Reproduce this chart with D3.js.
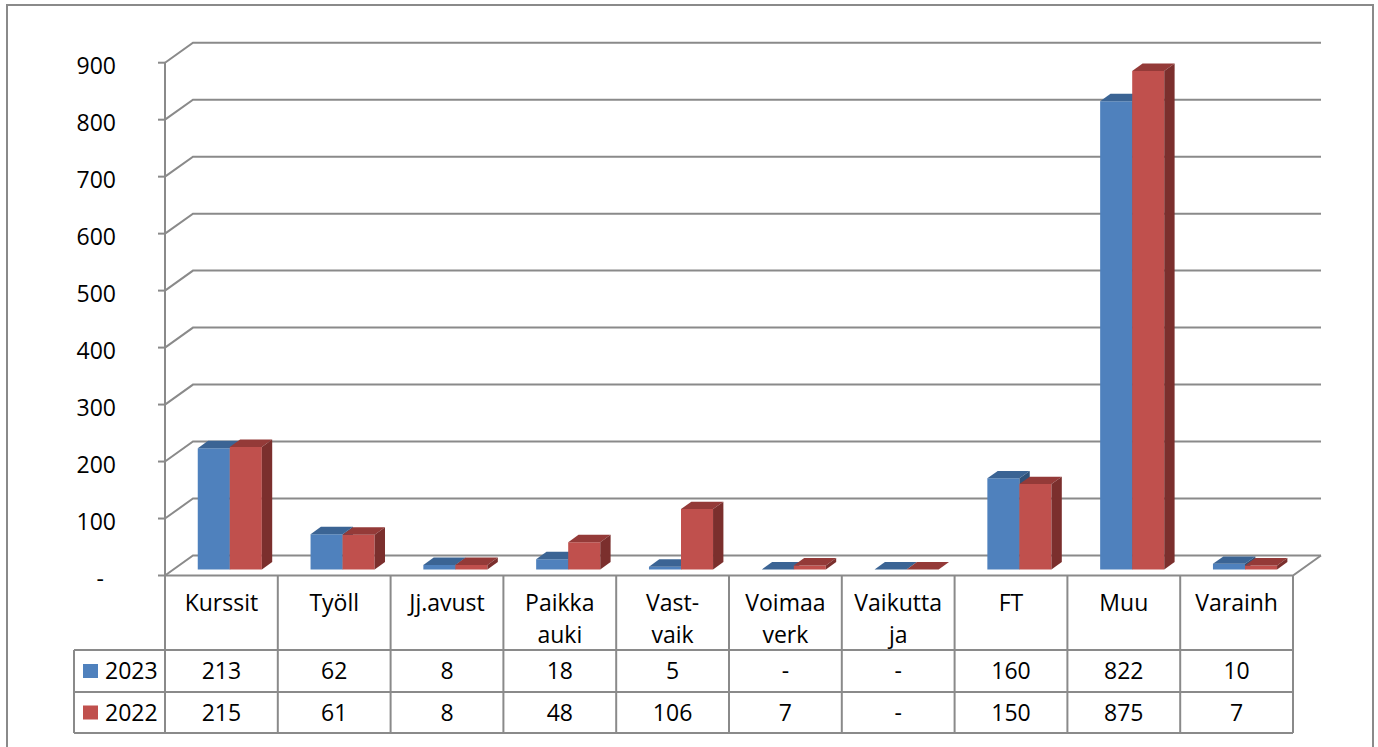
<!DOCTYPE html>
<html>
<head>
<meta charset="utf-8">
<script src="https://cdn.jsdelivr.net/npm/d3@7"></script>
<style>
  body { margin: 0; background: #fff; }
  text { font-family: "Open Sans", "Noto Sans", sans-serif; fill: #000; }
</style>
</head>
<body>
<div id="chart"></div>
<script>
// data
var categories = ["Kurssit", "Työll", "Jj.avust", "Paikka\nauki", "Vast-\nvaik",
                  "Voimaa\nverk", "Vaikutta\nja", "FT", "Muu", "Varainh"];
var seriesNames = ["2023", "2022"];
var values2023 = [213, 62, 8, 18, 5, 0, 0, 160, 822, 10];
var values2022 = [215, 61, 8, 48, 106, 7, 0, 150, 875, 7];
var yTicks = [0, 100, 200, 300, 400, 500, 600, 700, 800, 900];

var svgWidth = 1378;
var svgHeight = 747;

var colors = {
  "2023": { front: "#4f81bd", top: "#3b6494", side: "#2f527a" },
  "2022": { front: "#c0504d", top: "#943a38", side: "#7b2f2d" }
};
var gridColor = "#8a8a8a";

// 3D oblique offset of the back wall
var DX = 28, DY = -20;
var d0 = 0.3, d1 = 0.67; // bar front / back depth

var svg = d3.select("#chart").append("svg")
  .attr("width", svgWidth)
  .attr("height", svgHeight);

// outer frame
svg.append("rect")
  .attr("x", 7).attr("y", 5)
  .attr("width", 1366).attr("height", 770)
  .attr("fill", "none")
  .attr("stroke", gridColor)
  .attr("stroke-width", 2);

var x = d3.scaleBand()
  .domain(d3.range(categories.length))
  .range([165, 1293])
  .paddingInner(0);

var xSub = d3.scaleBand()
  .domain(seriesNames)
  .range([0, x.bandwidth()])
  .paddingOuter(0.76);

var y = d3.scaleLinear()
  .domain([0, 900])
  .range([575.5, 62.7]);

function proj(px, v, d) {
  return [px + d * DX, y(v) + d * DY];
}

var grid = svg.append("g")
  .attr("fill", "none")
  .attr("stroke", gridColor)
  .attr("stroke-width", 2);

// gridlines: left wall diagonal + back wall horizontal
yTicks.forEach(function(t) {
  var a = proj(165, t, 0), b = proj(165, t, 1), c = proj(1293, t, 1);
  grid.append("path").attr("d", d3.line()([a, b, c]));
  grid.append("line")
    .attr("x1", 158).attr("x2", 165)
    .attr("y1", y(t)).attr("y2", y(t));
});

// floor: right diagonal and front edge
grid.append("path").attr("d", d3.line()([proj(1293, 0, 1), proj(1293, 0, 0), proj(165, 0, 0)]));

// vertical axis
grid.append("line")
  .attr("x1", 165).attr("x2", 165)
  .attr("y1", y(900)).attr("y2", y(0));

// y tick labels
svg.append("g").selectAll("text")
  .data(yTicks)
  .enter()
  .append("text")
  .attr("x", d => d === 0 ? 104 : 116)
  .attr("y", d => y(d) + 3)
  .attr("dy", "0.35em")
  .attr("text-anchor", "end")
  .style("font-size", "23px")
  .text(d => d === 0 ? "-" : d);

// bars
var bars = svg.append("g");
categories.forEach(function(c, i) {
  [values2023[i], values2022[i]].forEach(function(v, s) {
    var name = seriesNames[s];
    var x0 = x(i) + xSub(name);
    var x1 = x0 + xSub.bandwidth();
    var col = colors[name];
    var front = [proj(x0, v, d0), proj(x1, v, d0), proj(x1, 0, d0), proj(x0, 0, d0)];
    var top = [proj(x0, v, d0), proj(x1, v, d0), proj(x1, v, d1), proj(x0, v, d1)];
    var side = [proj(x1, v, d0), proj(x1, 0, d0), proj(x1, 0, d1), proj(x1, v, d1)];
    bars.append("path").attr("d", d3.line()(front) + "Z").attr("fill", col.front);
    bars.append("path").attr("d", d3.line()(top) + "Z").attr("fill", col.top);
    bars.append("path").attr("d", d3.line()(side) + "Z").attr("fill", col.side);
  });
});

// data table
var table = svg.append("g");
var tLines = table.append("g")
  .attr("stroke", gridColor)
  .attr("stroke-width", 2);
var rowY = [576, 650, 692, 733];

x.domain().forEach(function(i) {
  tLines.append("line")
    .attr("x1", x(i)).attr("x2", x(i))
    .attr("y1", rowY[0]).attr("y2", rowY[3]);
});
tLines.append("line")
  .attr("x1", 1293).attr("x2", 1293)
  .attr("y1", rowY[0]).attr("y2", rowY[3]);
tLines.append("line")
  .attr("x1", 74).attr("x2", 74)
  .attr("y1", rowY[1]).attr("y2", rowY[3]);
rowY.slice(1).forEach(function(ry) {
  tLines.append("line")
    .attr("x1", 74).attr("x2", 1293)
    .attr("y1", ry).attr("y2", ry);
});

// category labels (header row)
categories.forEach(function(c, i) {
  var lines = c.split("\n");
  var t = table.append("text")
    .attr("text-anchor", "middle")
    .style("font-size", "23px");
  lines.forEach(function(l, k) {
    t.append("tspan")
      .attr("x", x(i) + x.bandwidth() / 2)
      .attr("y", 603 + k * 32)
      .attr("dy", "0.35em")
      .text(l);
  });
});

// value rows with legend keys
[values2023, values2022].forEach(function(vals, r) {
  var cy = (rowY[r + 1] + rowY[r + 2]) / 2;
  table.append("rect")
    .attr("x", 83).attr("y", cy - 7)
    .attr("width", 15).attr("height", 14)
    .attr("fill", colors[seriesNames[r]].front);
  table.append("text")
    .attr("x", 105).attr("y", cy)
    .attr("dy", "0.35em")
    .style("font-size", "23px")
    .text(seriesNames[r]);
  vals.forEach(function(v, i) {
    table.append("text")
      .attr("x", x(i) + x.bandwidth() / 2)
      .attr("y", cy)
      .attr("dy", "0.35em")
      .attr("text-anchor", "middle")
      .style("font-size", "23px")
      .text(v === 0 ? "-" : v);
  });
});
</script>
</body>
</html>
